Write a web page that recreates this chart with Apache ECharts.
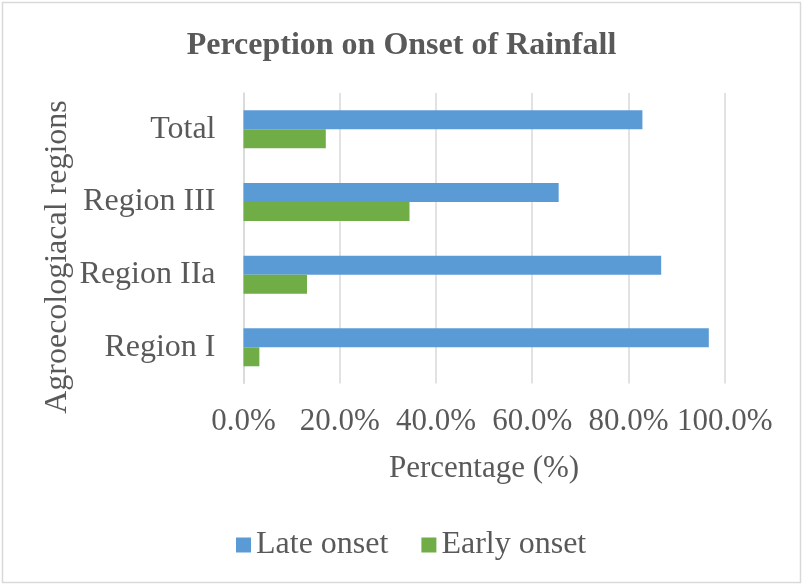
<!DOCTYPE html>
<html>
<head>
<meta charset="utf-8">
<script src="https://cdn.jsdelivr.net/npm/echarts@6/dist/echarts.min.js"></script>
<style>
  html, body { margin: 0; padding: 0; background: #fff; }
  #chart { width: 803px; height: 585px; }
</style>
</head>
<body>
<div id="chart"></div>
<script>
const regions = ['Region I', 'Region IIa', 'Region III', 'Total'];
const lateOnset = [96.7, 86.8, 65.5, 82.9];
const earlyOnset = [3.3, 13.2, 34.5, 17.1];
const xTicks = [0, 20, 40, 60, 80, 100];

const serif = "'Liberation Serif', 'Times New Roman', serif";
const textColor = '#595959';

const myChart = echarts.init(document.getElementById('chart'));
myChart.setOption({
    animation: false,
    backgroundColor: '#fff',
    title: {
        text: 'Perception on Onset of Rainfall',
        left: 'center',
        top: 25,
        textStyle: { fontFamily: serif, fontSize: 32, fontWeight: 'bold', color: textColor }
    },
    graphic: [
        {
            type: 'rect',
            shape: { x: 2.5, y: 2.5, width: 798, height: 580 },
            style: { fill: 'none', stroke: '#d9d9d9', lineWidth: 1.5 }
        },
        {
            // y axis title, Excel places it a bit lower than the plot centre
            type: 'text',
            x: 58,
            y: 257,
            rotation: Math.PI / 2,
            style: {
                text: 'Agroecologiacal regions',
                fontFamily: serif, fontSize: 32, fill: textColor,
                align: 'center', verticalAlign: 'middle'
            }
        }
    ],
    legend: {
        data: ['Late onset', 'Early onset'],
        left: 231,
        top: 524,
        itemWidth: 15,
        itemHeight: 15,
        itemGap: 33,
        icon: 'rect',
        textStyle: { fontFamily: serif, fontSize: 32, color: textColor }
    },
    grid: { left: 243.5, right: 78.3, top: 93, bottom: 201.4 },
    xAxis: {
        type: 'value',
        min: xTicks[0],
        max: xTicks[xTicks.length - 1],
        interval: 20,
        name: 'Percentage (%)',
        nameLocation: 'middle',
        nameGap: 70,
        nameTextStyle: { fontFamily: serif, fontSize: 31, color: textColor },
        axisLine: { show: false },
        axisTick: { show: false },
        axisLabel: {
            margin: 23,
            fontFamily: serif, fontSize: 31, color: textColor,
            formatter: v => v.toFixed(1) + '%'
        },
        splitLine: { lineStyle: { color: '#d9d9d9', width: 1.5 } }
    },
    yAxis: {
        type: 'category',
        data: regions,
        axisLine: { show: true, lineStyle: { color: '#d9d9d9', width: 1.5 } },
        axisTick: { show: false },
        axisLabel: { margin: 28, fontFamily: serif, fontSize: 32, color: textColor }
    },
    series: [
        {
            name: 'Late onset',
            type: 'bar',
            data: lateOnset,
            barWidth: 19,
            barGap: '0%',
            itemStyle: { color: '#5B9BD5' }
        },
        {
            name: 'Early onset',
            type: 'bar',
            data: earlyOnset,
            barWidth: 19,
            barGap: '0%',
            itemStyle: { color: '#70AD47' }
        }
    ]
});
</script>
</body>
</html>
